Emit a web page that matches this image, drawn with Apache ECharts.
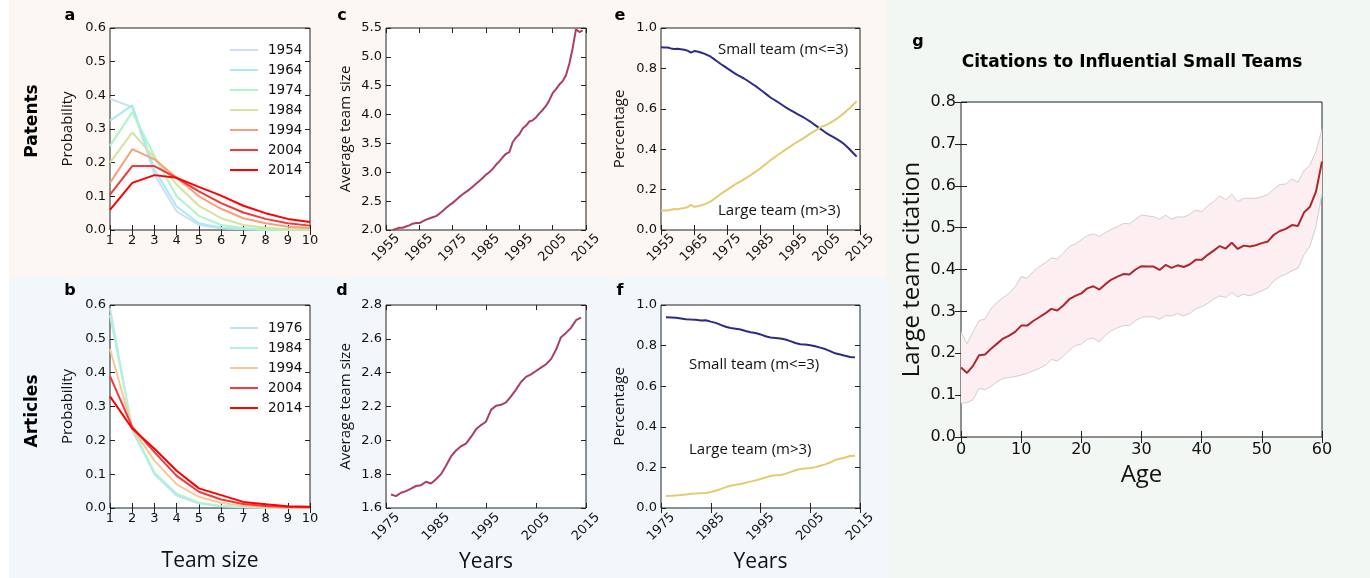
<!DOCTYPE html>
<html><head><meta charset="utf-8">
<script src="https://cdn.jsdelivr.net/npm/echarts@6/dist/echarts.min.js"></script>
<style>html,body{margin:0;padding:0;background:#fff}#chart{width:1370px;height:578px}</style>
</head><body><div id="chart"></div>
<script>
// ---------------- data ----------------
const teamSizes = [1,2,3,4,5,6,7,8,9,10];
const patentYears = ['1954','1964','1974','1984','1994','2004','2014'];
const patentColors = ['#cddff4','#a8eaf2','#aef5c8','#d4e3a0','#f7a07a','#f23a3a','#ff0000'];
const pat1954 = [0.39,0.365,0.165,0.055,0.015,0.005,0.002,0.001,0.0005,0.0003];
const pat1964 = [0.325,0.37,0.18,0.07,0.02,0.007,0.003,0.001,0.0005,0.0003];
const pat1974 = [0.25,0.35,0.22,0.10,0.042,0.015,0.006,0.002,0.001,0.0005];
const pat1984 = [0.20,0.29,0.215,0.135,0.072,0.035,0.015,0.007,0.003,0.002];
const pat1994 = [0.14,0.24,0.21,0.155,0.10,0.063,0.035,0.02,0.01,0.006];
const pat2004 = [0.105,0.19,0.19,0.155,0.115,0.08,0.052,0.033,0.02,0.013];
const pat2014 = [0.06,0.14,0.163,0.155,0.128,0.102,0.072,0.05,0.033,0.024];

const articleYears = ['1976','1984','1994','2004','2014'];
const articleColors = ['#b6e6f0','#b4f2d6','#f8c898','#f23a3a','#ff0000'];
const art1976 = [0.59,0.23,0.10,0.037,0.013,0.005,0.002,0.001,0.0005,0.0002];
const art1984 = [0.57,0.235,0.105,0.042,0.016,0.006,0.003,0.001,0.0005,0.0002];
const art1994 = [0.47,0.235,0.14,0.07,0.033,0.015,0.007,0.003,0.001,0.001];
const art2004 = [0.39,0.24,0.165,0.095,0.048,0.025,0.012,0.006,0.003,0.002];
const art2014 = [0.33,0.235,0.175,0.11,0.058,0.038,0.018,0.011,0.005,0.004];

const patentSizeStart = 1957;
const patentAvgSize = [2.00,2.02,2.04,2.04,2.06,2.08,2.11,2.12,2.12,2.15,
  2.18,2.20,2.22,2.24,2.28,2.33,2.38,2.43,2.47,2.52,
  2.57,2.62,2.66,2.70,2.75,2.80,2.85,2.90,2.96,3.00,
  3.06,3.13,3.19,3.26,3.32,3.35,3.52,3.60,3.66,3.76,
  3.81,3.88,3.90,3.95,4.02,4.08,4.15,4.25,4.37,4.44,
  4.52,4.58,4.68,4.88,5.15,5.48,5.43,5.46];

const articleSizeStart = 1976;
const articleAvgSize = [1.68,1.67,1.69,1.70,1.715,1.73,1.735,1.755,1.745,1.77,
  1.80,1.85,1.905,1.94,1.965,1.98,2.02,2.065,2.09,2.11,
  2.18,2.205,2.21,2.225,2.26,2.30,2.345,2.375,2.39,2.41,
  2.43,2.45,2.48,2.535,2.61,2.635,2.665,2.71,2.725];

const patentShareStart = 1955;
const patentSmall = [.905,.904,.903,.899,.896,.897,.895,.892,.888,.878,
  .886,.884,.879,.873,.866,.858,.846,.834,.822,.811,
  .800,.789,.778,.768,.759,.750,.740,.729,.718,.707,
  .694,.682,.669,.656,.646,.636,.625,.614,.603,.594,
  .585,.575,.566,.557,.547,.537,.525,.513,.502,.490,
  .478,.469,.460,.450,.440,.428,.413,.397,.380,.363];
const patentLarge = [.095,.096,.097,.100,.104,.103,.106,.109,.113,.124,
  .115,.117,.121,.127,.133,.142,.153,.166,.178,.190,
  .200,.211,.222,.232,.241,.251,.261,.272,.283,.294,
  .306,.319,.332,.345,.357,.369,.380,.392,.403,.414,
  .425,.435,.445,.455,.466,.477,.487,.497,.508,.515,
  .522,.530,.540,.551,.563,.576,.590,.605,.621,.637];

const articleShareStart = 1976;
const articleSmall = [.940,.939,.937,.934,.930,.928,.927,.924,.925,.918,
  .912,.902,.893,.887,.883,.879,.872,.866,.862,.855,
  .846,.840,.838,.835,.830,.822,.813,.807,.805,.802,
  .797,.790,.783,.773,.762,.756,.750,.744,.742];
const articleLarge = [.059,.060,.062,.064,.067,.070,.071,.073,.074,.079,
  .085,.093,.103,.110,.114,.118,.124,.130,.136,.143,
  .150,.158,.161,.163,.168,.177,.186,.192,.195,.197,
  .201,.208,.215,.224,.237,.243,.249,.256,.257];

const yearTicks1955 = [1955,1965,1975,1985,1995,2005,2015];
const yearTicks1975 = [1975,1985,1995,2005,2015];

const ages = [0,1,2,3,4,5,6,7,8,9,10,11,12,13,14,15,16,17,18,19,20,21,22,23,24,25,26,27,28,29,30,
  31,32,33,34,35,36,37,38,39,40,41,42,43,44,45,46,47,48,49,50,51,52,53,54,55,56,57,58,59,60];
const citeMean = [0.166,0.153,0.17,0.195,0.197,0.211,0.223,0.235,0.242,0.251,0.266,0.266,0.277,0.286,0.295,0.306,
  0.302,0.314,0.329,0.337,0.343,0.355,0.36,0.352,0.365,0.376,0.383,0.389,0.388,0.4,0.408,
  0.407,0.407,0.399,0.411,0.404,0.41,0.406,0.412,0.423,0.423,0.435,0.445,0.456,0.45,0.464,
  0.449,0.457,0.455,0.458,0.463,0.467,0.483,0.492,0.497,0.506,0.504,0.536,0.55,0.586,0.658];
const citeUpper = [0.251,0.223,0.251,0.278,0.282,0.307,0.321,0.333,0.343,0.359,0.383,0.379,0.395,0.407,0.416,0.428,
  0.425,0.439,0.455,0.461,0.471,0.481,0.485,0.479,0.488,0.496,0.502,0.51,0.509,0.52,0.53,
  0.528,0.526,0.52,0.53,0.52,0.526,0.525,0.532,0.542,0.538,0.552,0.562,0.576,0.566,0.58,
  0.562,0.57,0.57,0.57,0.574,0.579,0.592,0.603,0.604,0.616,0.608,0.636,0.65,0.682,0.735];
const citeLower = [0.081,0.082,0.089,0.116,0.113,0.121,0.132,0.14,0.142,0.144,0.148,0.152,0.158,0.164,0.171,0.185,
  0.182,0.193,0.207,0.218,0.222,0.234,0.236,0.227,0.243,0.254,0.261,0.266,0.266,0.278,0.286,
  0.287,0.287,0.281,0.29,0.289,0.295,0.289,0.295,0.306,0.311,0.319,0.329,0.337,0.333,0.345,
  0.335,0.341,0.337,0.343,0.349,0.356,0.373,0.383,0.389,0.397,0.403,0.435,0.456,0.502,0.582];

// ---------------- layout / style ----------------
const TICKF = 'DejaVu Sans';
const LABF = 'Open Sans';
const grids = [
  {left:110, top:28, width:200, height:202},   // a
  {left:110, top:305, width:200, height:203},  // b
  {left:386, top:28, width:200, height:202},   // c
  {left:386, top:305, width:200, height:203},  // d
  {left:661, top:28, width:199, height:202},   // e
  {left:661, top:305, width:199, height:203},  // f
  {left:961, top:102, width:361, height:335}   // g
].map(g => Object.assign({show:true, backgroundColor:'#ffffff', borderColor:'#222', borderWidth:1, containLabel:false}, g));

const xAxes = [], yAxes = [];
function addAxes(gi, xo, yo) {
  const tick = (len, custom) => Object.assign({show:true, inside:true, length:len, lineStyle:{color:'#222', width:1}}, custom ? {customValues: custom} : {});
  const xl = {show:true, color:'#111', fontFamily:TICKF, fontSize:xo.fs || 13, margin:xo.margin || 4, showMinLabel:true, showMaxLabel:true,
    formatter: v => String(v)};
  if (xo.custom) xl.customValues = xo.custom;
  if (xo.rotate) { xl.rotate = xo.rotate; xl.align = 'center'; xl.verticalAlign = 'middle'; }
  const xBase = {gridIndex:gi, type:'value', min:xo.min, max:xo.max, splitLine:{show:false}, axisLine:{show:false}};
  if (xo.interval) xBase.interval = xo.interval;
  xAxes.push(Object.assign({}, xBase, {position:'bottom', axisTick:tick(xo.tl || 5, xo.custom), axisLabel:xl,
    name:xo.name || '', nameLocation:'middle', nameGap:xo.nameGap || 30,
    nameTextStyle:{fontFamily:LABF, fontSize:xo.nameSize || 21, color:'#111'}}));
  xAxes.push(Object.assign({}, xBase, {position:'top', axisTick:tick(xo.tl || 5, xo.custom), axisLabel:{show:false}}));
  const yl = {show:true, color:'#111', fontFamily:TICKF, fontSize:yo.fs || 13, margin:yo.margin || 4, showMinLabel:true, showMaxLabel:true,
    formatter: v => v.toFixed(1)};
  const yBase = {gridIndex:gi, type:'value', min:yo.min, max:yo.max, interval:yo.interval, splitLine:{show:false}, axisLine:{show:false}};
  yAxes.push(Object.assign({}, yBase, {position:'left', axisTick:tick(yo.tl || 5), axisLabel:yl,
    name:yo.name || '', nameLocation:'middle', nameGap:yo.nameGap || 34,
    nameTextStyle:{fontFamily:LABF, fontSize:yo.nameSize || 15, color:'#111'}}));
  yAxes.push(Object.assign({}, yBase, {position:'right', axisTick:tick(yo.tl || 5), axisLabel:{show:false}}));
}
addAxes(0, {min:1, max:10, interval:1}, {min:0, max:0.6, interval:0.1, name:'Probability', nameGap:35});
addAxes(1, {min:1, max:10, interval:1, name:'Team size', nameGap:43}, {min:0, max:0.6, interval:0.1, name:'Probability', nameGap:35});
addAxes(2, {min:1955, max:2015, custom:yearTicks1955, rotate:45, margin:18}, {min:2.0, max:5.5, interval:0.5, name:'Average team size', nameGap:33});
addAxes(3, {min:1975, max:2015, custom:yearTicks1975, rotate:45, margin:19, name:'Years', nameGap:44}, {min:1.6, max:2.8, interval:0.2, name:'Average team size', nameGap:33});
addAxes(4, {min:1955, max:2015, custom:yearTicks1955, rotate:45, margin:18}, {min:0, max:1.0, interval:0.2, name:'Percentage', nameGap:34});
addAxes(5, {min:1975, max:2015, custom:yearTicks1975, rotate:45, margin:19, name:'Years', nameGap:44}, {min:0, max:1.0, interval:0.2, name:'Percentage', nameGap:34});
addAxes(6, {min:0, max:60, interval:10, fs:16, tl:6, margin:5, name:'Age', nameGap:22, nameSize:24},
           {min:0, max:0.8, interval:0.1, fs:16, tl:6, margin:5, name:'Large team citation', nameGap:37, nameSize:24});

const series = [];
function line(gi, name, xs, ys, color, width, extra) {
  series.push(Object.assign({type:'line', name:name, xAxisIndex:2*gi, yAxisIndex:2*gi, symbol:'none', silent:true,
    data: xs.map((x, i) => [x, ys[i]]), lineStyle:{color:color, width:width}, itemStyle:{color:color}}, extra || {}));
}
const patentDists = [pat1954, pat1964, pat1974, pat1984, pat1994, pat2004, pat2014];
patentYears.forEach((y, i) => line(0, 'a ' + y, teamSizes, patentDists[i], patentColors[i], 2));
const articleDists = [art1976, art1984, art1994, art2004, art2014];
articleYears.forEach((y, i) => line(1, 'b ' + y, teamSizes, articleDists[i], articleColors[i], 2));
const yrs = (start, n) => Array.from({length:n}, (_, i) => start + i);
line(2, 'c', yrs(patentSizeStart, patentAvgSize.length), patentAvgSize, '#a8405e', 2);
line(3, 'd', yrs(articleSizeStart, articleAvgSize.length), articleAvgSize, '#a8405e', 2);
line(4, 'e small', yrs(patentShareStart, patentSmall.length), patentSmall, '#2b2a8c', 2);
line(4, 'e large', yrs(patentShareStart, patentLarge.length), patentLarge, '#e2cc72', 2);
line(5, 'f small', yrs(articleShareStart, articleSmall.length), articleSmall, '#2b2a8c', 2);
line(5, 'f large', yrs(articleShareStart, articleLarge.length), articleLarge, '#e2cc72', 2);
// confidence band polygon through the axes' own coordinate mapping
series.push({type:'custom', name:'g band', xAxisIndex:12, yAxisIndex:12, silent:true, z:1,
  data:[[ages[0], citeLower[0]]],
  renderItem: (params, api) => {
    const pts = ages.map((a, i) => api.coord([a, citeUpper[i]]))
      .concat(ages.map((a, i) => api.coord([a, citeLower[i]])).reverse());
    return {type:'polygon', shape:{points:pts}, style:{fill:'#fdeef1', stroke:null}};
  }});
line(6, 'g upper', ages, citeUpper, '#cfcfcf', 1, {z:3});
line(6, 'g lower', ages, citeLower, '#cfcfcf', 1, {z:3});
line(6, 'g mean', ages, citeMean, '#b0262c', 2, {z:5});

const legendBase = {orient:'vertical', icon:'rect', itemWidth:28, itemHeight:2, itemGap:4, selectedMode:false,
  formatter: n => n.split(' ')[1], textStyle:{fontFamily:TICKF, fontSize:13.5, lineHeight:16, color:'#111', padding:[0,0,0,5]}};
const legends = [
  Object.assign({}, legendBase, {left:225, top:37, data: patentYears.map(y => 'a ' + y)}),
  Object.assign({}, legendBase, {left:225, top:315, data: articleYears.map(y => 'b ' + y)})
];

const txt = (x, y, text, font, extra) => Object.assign({type:'text', x:x, y:y, silent:true,
  style:{text:text, font:font, fill:'#000', align:'center', verticalAlign:'middle'}}, extra || {});
const letterFont = 'bold 16px "DejaVu Sans"';
const annFont = '15px "Open Sans"';
const graphic = [
  {type:'rect', shape:{x:9, y:0, width:878, height:278}, style:{fill:'#fdf7f3'}, z:-10, silent:true},
  {type:'rect', shape:{x:9, y:278, width:878, height:300}, style:{fill:'#f2f7fb'}, z:-10, silent:true},
  {type:'rect', shape:{x:887, y:0, width:483, height:578}, style:{fill:'#f3f7f4'}, z:-10, silent:true},
  txt(70, 16, 'a', letterFont), txt(70, 291, 'b', letterFont),
  txt(342, 16, 'c', letterFont), txt(342, 291, 'd', letterFont),
  txt(620, 16, 'e', letterFont), txt(620, 291, 'f', letterFont),
  txt(918, 42, 'g', letterFont),
  txt(33, 121, 'Patents', 'bold 17px "DejaVu Sans"', {rotation: Math.PI / 2}),
  txt(33, 411, 'Articles', 'bold 17px "DejaVu Sans"', {rotation: Math.PI / 2}),
  txt(1132, 63, 'Citations to Influential Small Teams', 'bold 17px "DejaVu Sans"'),
  {type:'text', x:718, y:50, silent:true, style:{text:'Small team (m<=3)', font:annFont, fill:'#111', align:'left', verticalAlign:'middle'}},
  {type:'text', x:718, y:211, silent:true, style:{text:'Large team (m>3)', font:annFont, fill:'#111', align:'left', verticalAlign:'middle'}},
  {type:'text', x:689, y:365, silent:true, style:{text:'Small team (m<=3)', font:annFont, fill:'#111', align:'left', verticalAlign:'middle'}},
  {type:'text', x:689, y:450, silent:true, style:{text:'Large team (m>3)', font:annFont, fill:'#111', align:'left', verticalAlign:'middle'}}
];

const chart = echarts.init(document.getElementById('chart'), null, {renderer:'canvas'});
chart.setOption({
  animation:false,
  backgroundColor:'#ffffff',
  grid:grids, xAxis:xAxes, yAxis:yAxes, series:series, legend:legends, graphic:graphic
});
</script></body></html>
